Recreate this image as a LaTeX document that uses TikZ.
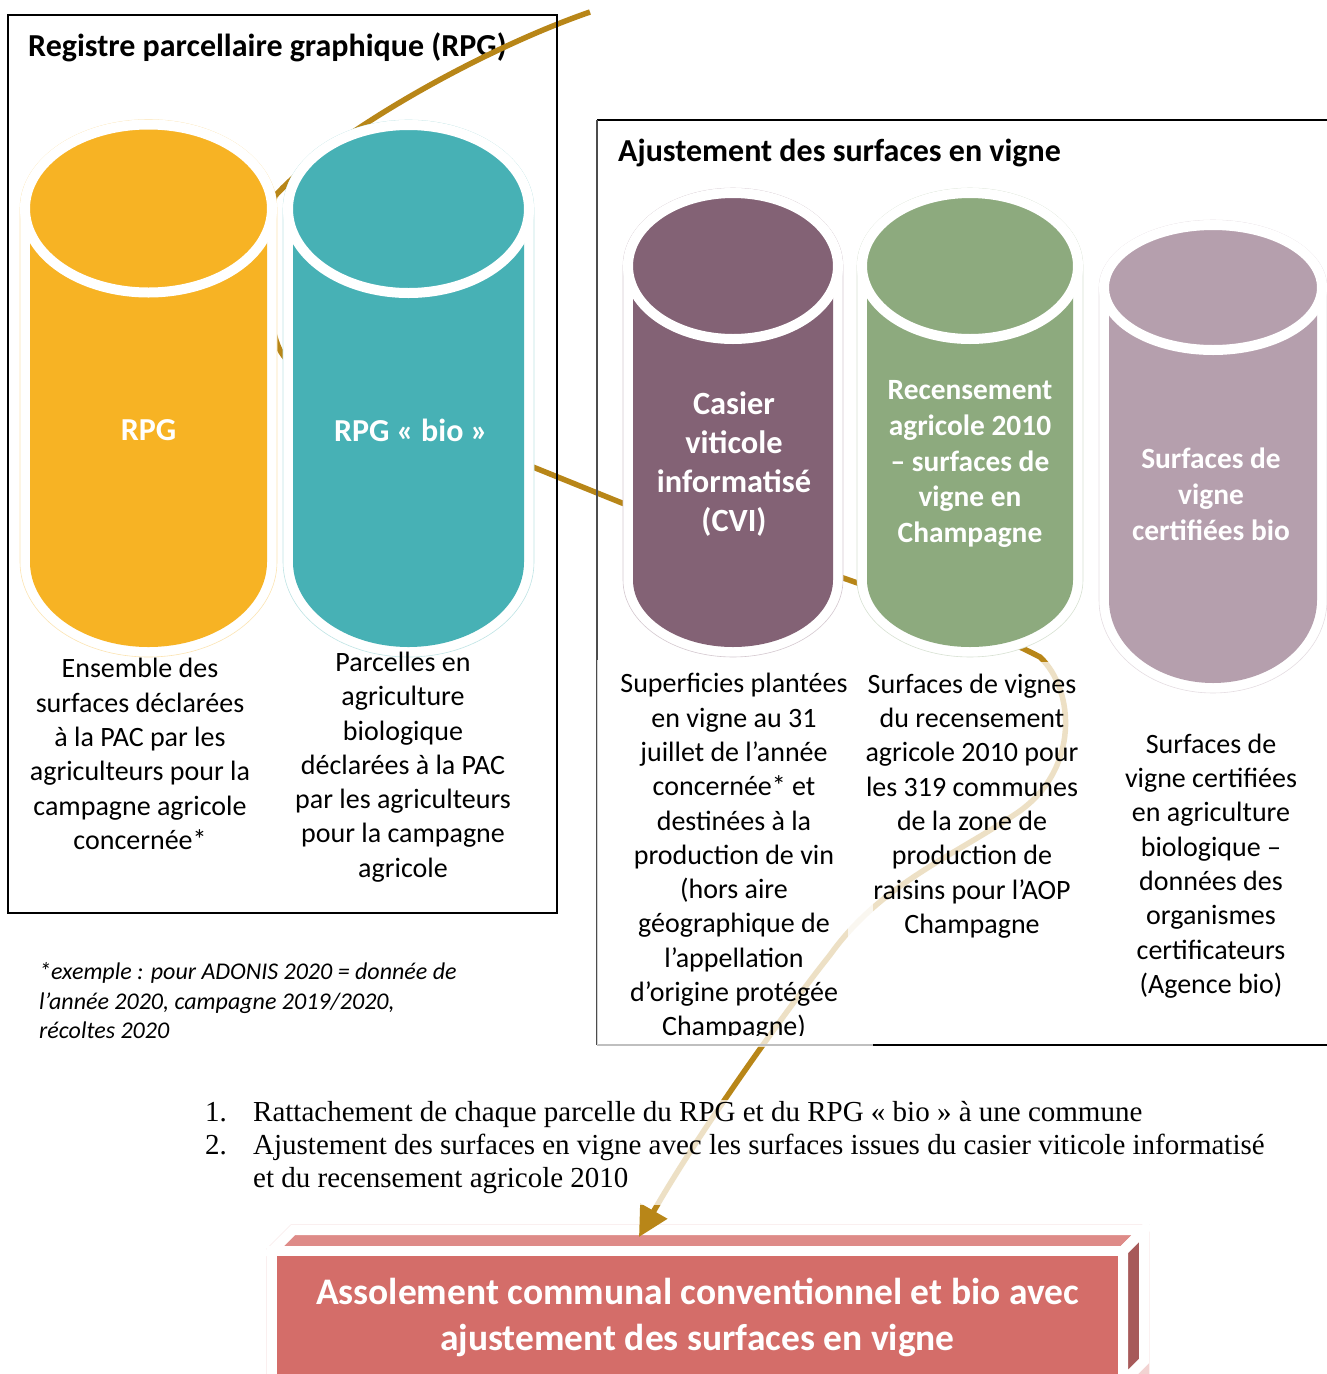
\documentclass[tikz,border=0pt]{standalone}
\usepackage{fontspec}
\setmainfont{Carlito}
\newfontfamily\listserif{Liberation Serif}
\usetikzlibrary{arrows.meta}

\definecolor{rpgyellow}{RGB}{247,179,36}
\definecolor{rpgteal}{RGB}{71,177,181}
\definecolor{cviplum}{RGB}{131,98,117}
\definecolor{recgreen}{RGB}{141,170,126}
\definecolor{biomauve}{RGB}{181,159,173}
\definecolor{wiregold}{RGB}{184,134,24}
\definecolor{cubefront}{RGB}{212,109,105}
\definecolor{cubetop}{RGB}{222,139,136}
\definecolor{cubeside}{RGB}{167,90,90}

% drum: colour, cx, rx, top centre y, top ry, base centre y, base ry
\newcommand\drum[7]{%
  \path[fill=white, draw=#1!35, line width=0.6pt]
    ({#2-#3-10},#4) arc[start angle=180, end angle=0, x radius={(#3+10)*1pt}, y radius={(#5+10)*1pt}]
    -- ({#2+#3+10},#6) arc[start angle=0, end angle=-180, x radius={(#3+10)*1pt}, y radius={(#7+10)*1pt}]
    -- cycle;
  \fill[#1] ({#2-#3},#4) -- ({#2-#3},#6)
    arc[start angle=180, end angle=360, x radius={#3*1pt}, y radius={#7*1pt}]
    -- ({#2+#3},#4) -- cycle;
  \draw[fill=#1, draw=white, line width=10pt] (#2,#4)
    ellipse[x radius={(#3+5)*1pt}, y radius={(#5+5)*1pt}];
}

\tikzset{
  frame/.style={draw=black, line width=1.1pt},
  heading/.style={font=\fontsize{32}{36}\selectfont\bfseries, anchor=base west, inner sep=0pt},
  drumlabel/.style={text=white, align=center, inner sep=0pt},
  desc/.style={align=center, inner sep=0pt, font=\fontsize{28}{34.3}\selectfont},
  veil/.style={fill=white, fill opacity=0.75},
  wire/.style={draw=wiregold, line width=5.5pt},
}

\begin{document}
\begin{tikzpicture}[x=1pt, y=-1pt]
\useasboundingbox (0,0) rectangle (1326,1374);

% ---- result block (3D bar) ----
\draw[draw=cubefront!30, line width=10.8pt, line join=miter]
  (272,1395) -- (272,1251) -- (293,1230) -- (1144,1230) -- (1144,1374) -- (1123,1395) -- cycle;
\filldraw[fill=cubetop, draw=white, line width=10pt, line join=miter]
  (272,1251) -- (293,1230) -- (1144,1230) -- (1123,1251) -- cycle;
\filldraw[fill=cubeside, draw=white, line width=10pt, line join=miter]
  (1123,1251) -- (1144,1230) -- (1144,1361) -- (1123,1382) -- cycle;
\filldraw[fill=cubefront, draw=white, line width=10pt, line join=miter]
  (272,1251) rectangle (1123,1382);
\node[text=white, align=center, inner sep=0pt, font=\fontsize{37.5}{46}\selectfont\bfseries]
  (result) at (697.5,1317) {Assolement communal conventionnel et bio avec\\ajustement des surfaces en vigne};
\coordinate (tip) at (639,1237);

% ---- left heading ----
\node[heading] (rpgtitle) at (28,56) {Registre parcellaire graphique (RPG)};

% ---- connector ----
\coordinate (w0) at (590,12);
\coordinate (w1) at (275,196);
\coordinate (w2) at (281,352);
\coordinate (w3) at (340,389);
\coordinate (w4) at (622,503);
\coordinate (w5) at (1040,657);
\coordinate (w6) at (1017,813);
\coordinate (w7) at (830,955);
\draw[wire, -{Triangle[length=30pt, width=30pt]}]
  (w0) .. controls (480,50) and (330,135) .. (w1)
       .. controls (258,250) and (268,330) .. (w2)
       .. controls (292,370) and (312,378) .. (w3)
       -- (w4)
       .. controls (760,550) and (950,610) .. (w5)
       .. controls (1075,690) and (1080,770) .. (w6)
       .. controls (950,858) and (880,885) .. (w7)
       .. controls (790,1005) and (700,1130) .. (tip);

% ---- frames ----
\draw[frame] (8,15) rectangle (557,913);
\draw[frame] (1330,120) -- (597,120);
\draw[frame] (597,1045) -- (1330,1045);
\draw[draw=black!70, line width=1.1pt] (597,120) -- (597,1045);
\node[heading] (vinetitle) at (618,161) {Ajustement des surfaces en vigne};

% ---- drums ----
\drum{rpgyellow}{148.5}{118.5}{208.5}{79}{562}{85}
\drum{rpgteal}{408.5}{115.5}{209}{79}{562}{85}
\drum{cviplum}{733}{100}{266}{68}{580}{67}
\drum{recgreen}{970}{103}{266}{68}{580}{67}
\drum{biomauve}{1213}{104}{287.5}{57.5}{600}{83}

\node[drumlabel, font=\fontsize{32}{36}\selectfont\bfseries] (rpg) at (148.5,430) {RPG};
\node[drumlabel, font=\fontsize{32}{36}\selectfont\bfseries] (rpgbio) at (411,430) {RPG « bio »};
\node[drumlabel, font=\fontsize{32.4}{39}\selectfont\bfseries] (cvi) at (734,464) {Casier\\viticole\\informatisé\\(CVI)};
\node[drumlabel, font=\fontsize{29.4}{35.8}\selectfont\bfseries] (rec) at (970,464) {Recensement\\agricole 2010\\– surfaces de\\vigne en\\Champagne};
\node[drumlabel, font=\fontsize{29.4}{36}\selectfont\bfseries] (bio) at (1211,494) {Surfaces de\\vigne\\certifiées bio};

% ---- descriptions ----
\node[desc] (rpgtxt) at (140,754) {Ensemble des\\surfaces déclarées\\à la PAC par les\\agriculteurs pour la\\campagne agricole\\concernée*};
\node[desc] (rpgbiotxt) at (403,767) {Parcelles en\\agriculture\\biologique\\déclarées à la PAC\\par les agriculteurs\\pour la campagne\\agricole};

\fill[veil] (597,660) rectangle (873,1047);
\begin{scope}
  \clip (597,660) rectangle (873,1035);
  \node[desc] (cvitxt) at (734,857) {Superficies plantées\\en vigne au 31\\juillet de l’année\\concernée* et\\destinées à la\\production de vin\\(hors aire\\géographique de\\l’appellation\\d’origine protégée\\Champagne)};
\end{scope}

\fill[veil] (848,662) rectangle (1095,960);
\node[desc] (rectxt) at (972,806) {Surfaces de vignes\\du recensement\\agricole 2010 pour\\les 319 communes\\de la zone de\\production de\\raisins pour l’AOP\\Champagne};

\node[desc] (biotxt) at (1211,866) {Surfaces de\\vigne certifiées\\en agriculture\\biologique –\\données des\\organismes\\certificateurs\\(Agence bio)};

% ---- footnote ----
\node[align=left, anchor=west, inner sep=0pt, font=\fontsize{24}{29.5}\selectfont\itshape] (note) at (39,1001)
  {*exemple : pour ADONIS 2020 = donnée de\\l’année 2020, campagne 2019/2020,\\récoltes 2020};

% ---- steps ----
\fill[veil] (195,1100) rectangle (1270,1205);
\node[align=left, anchor=west, inner sep=0pt, font=\listserif\fontsize{29}{33}\selectfont] (steps) at (205,1148)
  {\makebox[48pt][l]{1.}Rattachement de chaque parcelle du RPG et du RPG « bio » à une commune\\
   \makebox[48pt][l]{2.}Ajustement des surfaces en vigne avec les surfaces issues du casier viticole informatisé\\
   \hspace*{48pt}et du recensement agricole 2010};
\end{tikzpicture}
\end{document}
